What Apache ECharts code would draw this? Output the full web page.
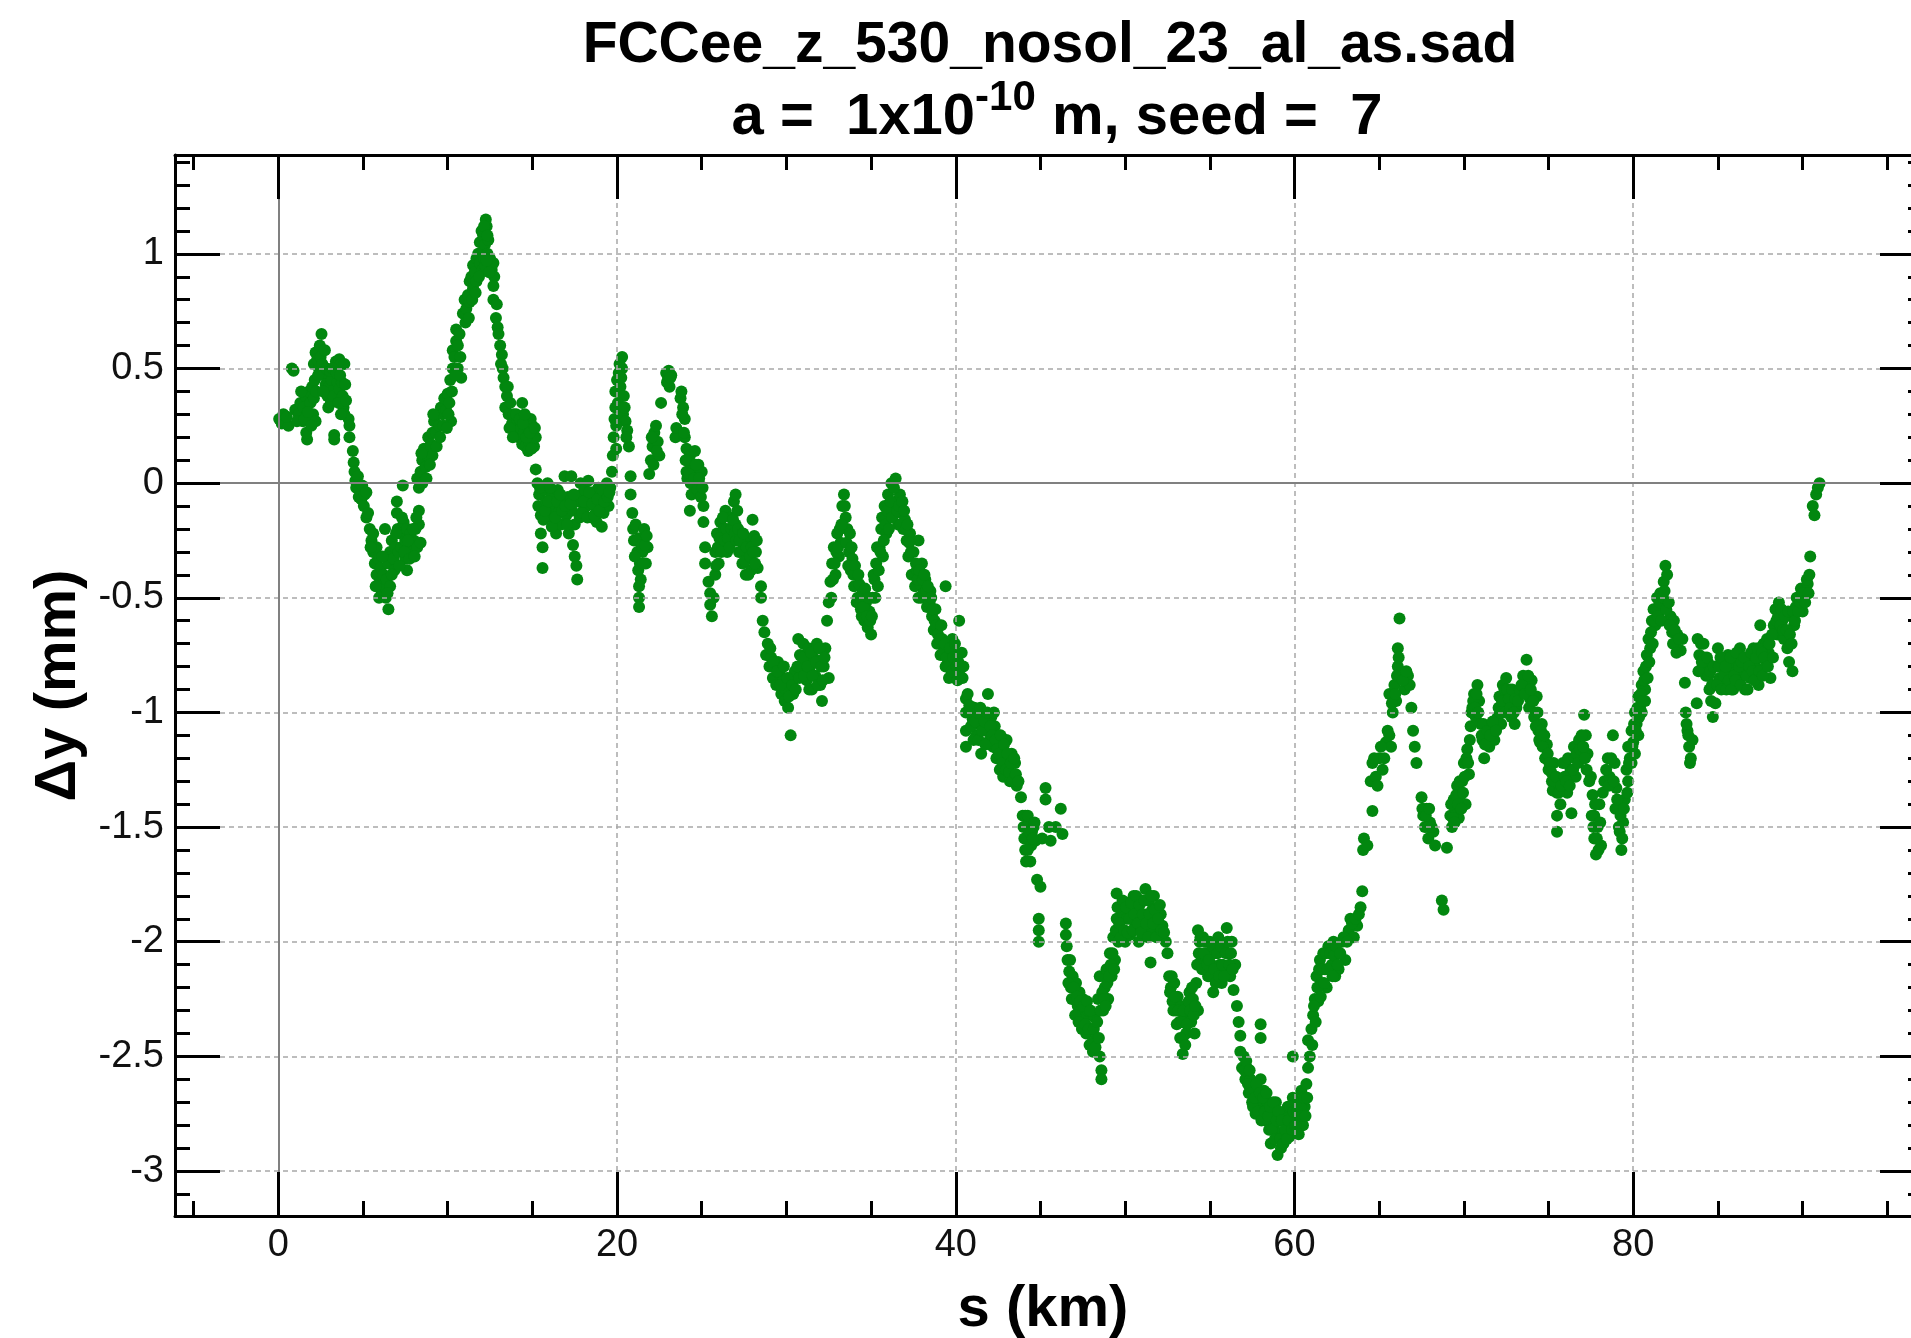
<!DOCTYPE html>
<html>
<head>
<meta charset="utf-8">
<title>FCCee_z_530_nosol_23_al_as.sad</title>
<script src="https://cdn.jsdelivr.net/npm/echarts@6/dist/echarts.min.js"></script>
<style>
  html, body { margin: 0; padding: 0; background: #fff; }
  #main { width: 1911px; height: 1338px; }
</style>
</head>
<body>
<div id="main"></div>
<script>
// dy (mm) against s (km), cut in pieces along s
var seg0to5 = [[0.05,0.28],[0.2,0.26],[0.45,0.26],[0.6,0.25],[0.8,0.5],[0.9,0.49],[1.0,0.32],[1.2,0.3],[1.3,0.35],[1.45,0.27],[1.5,0.33],[1.6,0.38],[1.7,0.19],[1.65,0.22],[1.8,0.4],[1.9,0.35],[2.0,0.42],[2.05,0.3],[2.1,0.37],[2.2,0.27],[2.25,0.4],[2.1,0.52],[2.2,0.57],[2.3,0.54],[2.45,0.6],[2.5,0.55],[2.55,0.65],[2.4,0.5],[2.7,0.47],[2.8,0.43],[2.9,0.38],[2.95,0.33],[3.0,0.42],[3.1,0.35],[3.15,0.45],[3.25,0.38],[3.3,0.21],[3.3,0.19],[3.4,0.53],[3.6,0.54],[3.7,0.52],[3.5,0.44],[3.6,0.41],[3.75,0.44],[3.8,0.38],[3.9,0.52],[3.85,0.33],[3.9,0.3],[4.15,0.28],[4.2,0.25],[4.2,0.2],[4.4,0.14],[4.45,0.09],[4.5,0.05],[4.55,0.01],[4.6,-0.02],[4.7,0.03],[4.8,-0.03],[4.75,-0.06],[4.9,-0.07],[4.95,-0.01],[5.05,-0.1],[5.1,-0.05],[5.2,-0.15],[5.3,-0.13],[5.2,-0.04],
  [0.3,0.3],[0.5,0.29],[1.1,0.27],[1.35,0.4],[1.55,0.28],[1.75,0.31],[1.95,0.25],[2.15,0.45],[2.35,0.47],[2.6,0.52],[2.75,0.58],[2.65,0.4],[2.85,0.5],[3.05,0.49],[3.2,0.5],[3.45,0.48],[3.55,0.35],[3.65,0.47],[3.7,0.3],[3.95,0.43],[4.0,0.36]];
var seg5to8 = [[5.4,-0.2],[5.5,-0.25],[5.6,-0.3],[5.6,-0.22],[5.7,-0.35],[5.8,-0.28],[5.8,-0.4],[5.9,-0.33],[6.0,-0.43],[6.05,-0.37],[6.1,-0.47],[6.2,-0.4],[6.25,-0.45],[6.3,-0.2],[6.35,-0.5],[6.5,-0.55],[6.4,-0.42],[6.5,-0.35],[6.6,-0.3],[6.6,-0.45],[6.7,-0.25],[6.8,-0.33],[6.85,-0.38],[6.9,-0.28],[7.0,-0.08],[7.0,-0.13],[7.05,-0.2],[7.1,-0.3],[7.2,-0.22],[7.25,-0.28],[7.35,-0.01],[7.4,-0.17],[7.5,-0.25],[7.5,-0.33],[7.6,-0.2],[7.6,-0.38],[7.7,-0.28],[7.8,-0.22],[7.9,-0.3],[8.0,-0.25],[8.1,-0.2],[8.2,-0.28],[8.3,-0.12],[8.3,-0.18],[8.4,-0.26],
  [5.45,-0.28],[5.75,-0.45],[5.95,-0.5],[6.15,-0.32],[6.45,-0.48],[6.7,-0.4],[6.95,-0.22],[7.15,-0.36],[7.3,-0.15],[7.45,-0.3],[7.65,-0.25],[7.75,-0.33],[7.95,-0.2],[8.05,-0.32],[8.15,-0.15]];
var seg8to13 = [[8.2,0.02],[8.3,-0.02],[8.4,0.05],[8.5,0.1],[8.5,0.0],[8.6,0.15],[8.7,0.07],[8.8,0.12],[8.85,0.2],[9.0,0.17],[9.1,0.22],[9.1,0.12],[9.2,0.27],[9.3,0.22],[9.4,0.3],[9.5,0.25],[9.6,0.33],[9.7,0.3],[9.8,0.37],[9.9,0.32],[10.0,0.39],[10.1,0.35],[10.2,0.27],[10.15,0.45],[10.3,0.5],[10.3,0.58],[10.4,0.55],[10.5,0.62],[10.5,0.67],[10.6,0.6],[10.7,0.65],[10.6,0.5],[10.8,0.46],[10.9,0.74],[11.0,0.8],[11.1,0.76],[11.2,0.82],[11.3,0.88],[11.3,0.79],[11.4,0.9],[11.5,0.85],[11.5,0.95],[11.6,0.92],[11.7,0.98],[11.7,0.88],[11.8,1.0],[11.9,0.96],[11.9,1.05],[12.0,1.0],[12.05,0.93],[12.1,1.08],[12.2,1.04],[12.2,0.95],[12.25,1.15],[12.3,1.12],[12.35,1.0],[12.4,1.06],[12.5,0.98],[12.6,0.93],[12.7,0.96],[12.75,0.9],
  [8.45,0.13],[8.75,0.02],[8.95,0.08],[9.15,0.3],[9.35,0.16],[9.55,0.2],[9.75,0.25],[9.95,0.24],[10.05,0.3],[10.25,0.4],[10.45,0.47],[10.75,0.55],[11.05,0.7],[11.25,0.72],[11.45,0.8],[11.65,0.83],[11.85,0.9],[12.0,1.1],[12.15,0.98],[12.3,0.97],[12.45,0.92],[12.15,1.12],[12.35,1.08]];
var seg13to15 = [[12.7,0.86],[12.7,0.8],[12.9,0.78],[12.85,0.72],[12.95,0.68],[13.0,0.65],[13.2,0.56],[13.25,0.5],[13.3,0.46],[13.4,0.42],[13.5,0.38],[13.4,0.33],[13.6,0.3],[13.7,0.35],[13.8,0.26],[13.9,0.3],[14.0,0.22],[14.1,0.27],[14.2,0.2],[14.3,0.24],[14.4,0.35],[14.4,0.17],[14.5,0.22],[14.6,0.16],[14.7,0.25],[14.8,0.18],[14.9,0.28],[15.0,0.21],[15.1,0.16],[15.0,0.25],[15.2,0.2],
  [13.1,0.6],[13.15,0.52],[13.55,0.42],[13.65,0.24],[13.85,0.2],[14.05,0.3],[14.25,0.28],[14.45,0.26],[14.55,0.3],[14.65,0.2],[14.75,0.14],[14.85,0.22],[14.95,0.15],[15.15,0.24]];
var seg15to20 = [[15.2,0.06],[15.3,0.0],[15.4,-0.05],[15.35,-0.1],[15.5,-0.14],[15.5,-0.22],[15.6,-0.28],[15.6,-0.37],[15.7,-0.03],[15.8,-0.08],[15.9,0.0],[16.0,-0.12],[16.1,-0.06],[16.2,-0.15],[16.3,-0.09],[16.4,-0.22],[16.5,-0.03],[16.6,-0.12],[16.7,-0.18],[16.8,-0.08],[16.9,0.03],[17.0,-0.14],[17.1,-0.06],[17.15,-0.22],[17.3,0.03],[17.35,-0.12],[17.4,-0.27],[17.5,-0.32],[17.5,-0.18],[17.6,-0.36],[17.65,-0.42],[17.7,-0.08],[17.8,-0.15],[17.85,0.0],[17.9,-0.05],[18.0,-0.12],[18.1,-0.03],[18.2,-0.1],[18.3,0.01],[18.4,-0.07],[18.5,-0.15],[18.6,-0.04],[18.7,-0.1],[18.8,-0.17],[18.9,-0.02],[19.0,-0.08],[19.1,-0.19],[19.2,-0.13],[19.3,-0.05],[19.4,0.0],[19.5,-0.1],[19.6,-0.02],[19.7,0.05],
  [15.45,-0.02],[15.65,-0.16],[15.75,-0.12],[15.95,-0.08],[16.05,-0.02],[16.15,-0.19],[16.35,-0.15],[16.45,-0.08],[16.65,-0.05],[16.75,-0.12],[16.95,-0.1],[17.05,-0.18],[17.25,-0.09],[17.45,-0.05],[17.95,-0.13],[18.05,-0.08],[18.25,-0.15],[18.35,-0.04],[18.55,-0.09],[18.65,-0.14],[18.85,-0.07],[18.95,-0.12],[19.15,-0.03],[19.25,-0.08],[19.45,-0.06],[19.55,-0.04]];
var seg20to25 = [[19.75,0.12],[19.8,0.2],[19.85,0.28],[19.9,0.33],[19.95,0.15],[19.9,0.4],[20.0,0.45],[20.1,0.48],[20.2,0.42],[20.3,0.55],[20.3,0.5],[20.4,0.38],[20.35,0.3],[20.5,0.27],[20.6,0.23],[20.7,0.16],[20.8,0.03],[20.8,-0.05],[20.9,-0.13],[20.95,-0.2],[21.0,-0.25],[21.1,-0.18],[21.2,-0.3],[21.3,-0.24],[21.35,-0.35],[21.4,-0.42],[21.3,-0.45],[21.3,-0.5],[21.3,-0.54],[21.5,-0.3],[21.6,-0.2],[21.7,-0.35],[21.8,-0.28],[21.9,0.04],[22.0,0.1],[22.1,0.16],[22.2,0.22],[22.3,0.25],[22.4,0.18],[22.5,0.12],[22.6,0.35],[22.9,0.48],[23.0,0.45],[23.2,0.47],[23.1,0.42],[23.45,0.2],[23.5,0.24],[23.75,0.37],[23.8,0.4],[23.9,0.33],[24.0,0.28],[24.0,0.2],[24.1,0.15],[24.2,0.1],[24.1,0.05],[24.3,0.12],[24.4,0.06],[24.4,-0.05],[24.3,-0.12],[24.5,0.08],[24.6,0.14],[24.7,0.02],[24.8,0.08],[24.9,-0.01],[25.0,0.05],[25.1,-0.1],[25.1,-0.17],[25.2,-0.28],[25.2,-0.35],
  [19.95,0.25],[20.05,0.35],[20.15,0.52],[20.25,0.46],[20.45,0.33],[20.55,0.2],[21.05,-0.32],[21.15,-0.25],[21.25,-0.38],[21.45,-0.27],[21.55,-0.35],[21.65,-0.27],[21.75,-0.23],[22.05,0.2],[22.15,0.08],[22.35,0.14],[22.95,0.44],[23.05,0.49],[23.15,0.46],[23.85,0.3],[23.95,0.22],[24.05,0.1],[24.15,0.02],[24.25,0.04],[24.35,0.0],[24.55,0.02],[24.65,0.08],[24.75,-0.03],[24.85,0.02],[24.95,-0.06],[25.05,-0.02]];
var seg25to29 = [[25.4,-0.43],[25.5,-0.48],[25.5,-0.53],[25.6,-0.58],[25.7,-0.5],[25.8,-0.4],[25.8,-0.3],[25.9,-0.22],[26.0,-0.35],[26.1,-0.17],[26.2,-0.28],[26.3,-0.2],[26.4,-0.12],[26.5,-0.3],[26.6,-0.2],[26.7,-0.15],[26.8,-0.25],[26.9,-0.08],[27.0,-0.05],[27.0,-0.18],[27.1,-0.12],[27.2,-0.3],[27.3,-0.22],[27.4,-0.35],[27.5,-0.28],[27.6,-0.4],[27.7,-0.33],[27.8,-0.25],[27.9,-0.38],[28.0,-0.16],[28.1,-0.23],[28.2,-0.3],[28.3,-0.37],[28.5,-0.45],[28.5,-0.5],
  [25.85,-0.36],[25.95,-0.28],[26.05,-0.24],[26.15,-0.3],[26.25,-0.15],[26.35,-0.25],[26.45,-0.2],[26.55,-0.24],[26.65,-0.28],[26.75,-0.2],[26.85,-0.16],[26.95,-0.22],[27.05,-0.25],[27.15,-0.2],[27.25,-0.25],[27.35,-0.3],[27.45,-0.22],[27.55,-0.34],[27.65,-0.28],[27.75,-0.4],[27.85,-0.32],[27.95,-0.28],[28.05,-0.3],[28.15,-0.35],[28.25,-0.25]];
var seg29to33 = [[28.6,-0.6],[28.7,-0.65],[28.8,-0.75],[28.9,-0.7],[29.0,-0.8],[29.1,-0.76],[29.2,-0.85],[29.3,-0.8],[29.4,-0.88],[29.5,-0.78],[29.6,-0.83],[29.7,-0.92],[29.8,-0.86],[29.9,-0.95],[30.0,-0.9],[30.1,-0.98],[30.25,-1.1],[30.2,-0.85],[30.4,-0.92],[30.5,-0.82],[30.7,-0.68],[30.8,-0.75],[30.9,-0.82],[31.0,-0.7],[31.1,-0.78],[31.2,-0.86],[31.3,-0.72],[31.4,-0.8],[31.5,-0.9],[31.6,-0.76],[31.7,-0.84],[31.8,-0.7],[31.9,-0.78],[32.0,-0.88],[32.1,-0.95],[32.2,-0.8],[32.3,-0.72],[32.4,-0.6],[32.5,-0.52],[32.5,-0.85],
  [29.05,-0.72],[29.25,-0.78],[29.45,-0.82],[29.65,-0.88],[29.85,-0.8],[30.05,-0.85],[30.15,-0.93],[30.35,-0.88],[30.55,-0.9],[30.65,-0.8],[30.75,-0.85],[30.95,-0.76],[31.05,-0.84],[31.25,-0.8],[31.35,-0.9],[31.45,-0.74],[31.55,-0.84],[31.75,-0.78],[31.85,-0.88],[31.95,-0.72],[32.05,-0.8],[32.15,-0.86],[32.25,-0.76]];
var seg33to38 = [[32.6,-0.43],[32.7,-0.35],[32.8,-0.28],[32.9,-0.4],[33.0,-0.22],[33.1,-0.32],[33.2,-0.26],[33.3,-0.1],[33.4,-0.05],[33.5,-0.15],[33.6,-0.2],[33.7,-0.3],[33.8,-0.38],[33.9,-0.33],[34.0,-0.45],[34.1,-0.4],[34.2,-0.5],[34.3,-0.44],[34.4,-0.55],[34.5,-0.48],[34.6,-0.6],[34.7,-0.52],[34.8,-0.63],[34.9,-0.56],[35.0,-0.66],[35.1,-0.5],[35.2,-0.42],[35.3,-0.35],[35.4,-0.45],[35.5,-0.28],[35.6,-0.2],[35.7,-0.32],[35.8,-0.1],[35.9,-0.22],[36.0,-0.05],[36.1,-0.15],[36.2,0.0],[36.3,-0.1],[36.45,0.02],[36.5,-0.08],[36.6,-0.18],[36.7,-0.05],[36.8,-0.13],[36.9,-0.2],[37.0,-0.16],[37.1,-0.25],[37.2,-0.32],[37.3,-0.22],[37.4,-0.4],[37.5,-0.3],[37.8,-0.25],
  [32.65,-0.5],[32.75,-0.42],[32.85,-0.35],[32.95,-0.3],[33.05,-0.28],[33.15,-0.2],[33.25,-0.18],[33.45,-0.1],[33.55,-0.26],[33.65,-0.36],[33.75,-0.22],[33.85,-0.28],[33.95,-0.4],[34.05,-0.36],[34.15,-0.52],[34.25,-0.4],[34.35,-0.5],[34.45,-0.58],[34.55,-0.54],[34.65,-0.46],[34.75,-0.58],[34.85,-0.5],[34.95,-0.6],[35.05,-0.58],[35.15,-0.4],[35.25,-0.5],[35.35,-0.28],[35.45,-0.38],[35.55,-0.3],[35.65,-0.15],[35.75,-0.25],[35.85,-0.18],[35.95,-0.12],[36.05,-0.2],[36.15,-0.08],[36.25,-0.15],[36.35,-0.02],[36.55,-0.12],[36.65,-0.1],[36.75,-0.18],[36.85,-0.08],[36.95,-0.12],[37.05,-0.2],[37.15,-0.18],[37.25,-0.26],[37.35,-0.3]];
var seg38to41 = [[37.6,-0.45],[37.7,-0.38],[37.8,-0.5],[37.9,-0.44],[38.0,-0.35],[38.1,-0.48],[38.2,-0.42],[38.3,-0.54],[38.5,-0.47],[38.6,-0.58],[38.7,-0.64],[38.8,-0.55],[38.9,-0.7],[39.0,-0.62],[39.1,-0.75],[39.2,-0.68],[39.4,-0.45],[39.4,-0.8],[39.5,-0.72],[39.6,-0.85],[39.7,-0.77],[39.8,-0.68],[39.9,-0.82],[40.0,-0.75],[40.1,-0.86],[40.2,-0.6],[40.3,-0.8],[40.4,-0.85],[40.6,-0.94],[40.6,-1.0],[40.6,-1.08],[40.6,-1.15],
  [37.65,-0.35],[37.75,-0.42],[37.85,-0.38],[37.95,-0.5],[38.05,-0.42],[38.15,-0.4],[38.25,-0.47],[38.35,-0.45],[38.45,-0.52],[38.55,-0.5],[38.65,-0.55],[38.75,-0.6],[38.85,-0.62],[38.95,-0.66],[39.05,-0.68],[39.15,-0.62],[39.25,-0.74],[39.35,-0.7],[39.45,-0.76],[39.55,-0.8],[39.65,-0.72],[39.75,-0.82],[39.85,-0.76],[39.95,-0.7],[40.05,-0.8],[40.15,-0.78],[40.25,-0.84],[40.35,-0.74],[40.45,-0.8]];
var seg41to47 = [[40.7,-0.92],[41.0,-1.03],[41.2,-1.1],[41.1,-0.98],[41.4,-1.05],[41.5,-1.18],[41.6,-1.0],[41.8,-1.08],[41.9,-0.92],[42.0,-1.12],[42.1,-1.02],[42.2,-1.15],[42.3,-1.06],[42.4,-1.2],[42.5,-1.1],[42.6,-1.25],[42.7,-1.16],[42.8,-1.28],[42.9,-1.2],[43.0,-1.12],[43.1,-1.24],[43.2,-1.3],[43.3,-1.18],[43.4,-1.27],[43.5,-1.22],[43.6,-1.32],[43.85,-1.37],[43.95,-1.45],[44.0,-1.5],[44.1,-1.45],[44.1,-1.6],[44.2,-1.55],[44.3,-1.48],[44.4,-1.65],[44.5,-1.52],[44.6,-1.5],[44.7,-1.56],[44.8,-1.73],[45.0,-1.76],[45.1,-1.55],[45.3,-1.33],[45.3,-1.38],[45.5,-1.5],[45.6,-1.56],[45.9,-1.5],[46.2,-1.42],[46.3,-1.53],[44.9,-1.9],[44.9,-1.95],[44.9,-2.0],
  [40.8,-0.97],[40.9,-1.06],[41.05,-1.12],[41.15,-1.04],[41.3,-1.0],[41.35,-1.12],[41.45,-0.98],[41.55,-1.08],[41.7,-1.04],[41.75,-1.14],[41.85,-1.0],[42.05,-1.06],[42.15,-1.1],[42.25,-1.0],[42.35,-1.12],[42.45,-1.16],[42.55,-1.18],[42.65,-1.1],[42.75,-1.22],[42.85,-1.14],[42.95,-1.25],[43.05,-1.18],[43.15,-1.26],[43.25,-1.22],[43.35,-1.3],[43.45,-1.2],[43.55,-1.27],[43.7,-1.3],[44.05,-1.55],[44.25,-1.45],[44.35,-1.52],[44.45,-1.58],[44.55,-1.55],[44.65,-1.48],[44.15,-1.65],[44.25,-1.6]];
var seg47to53 = [[46.5,-1.92],[46.5,-1.97],[46.6,-2.08],[46.7,-2.13],[46.8,-2.2],[46.9,-2.15],[47.0,-2.25],[47.1,-2.18],[47.2,-2.28],[47.3,-2.22],[47.4,-2.3],[47.5,-2.25],[47.6,-2.33],[47.7,-2.4],[47.8,-2.3],[47.9,-2.45],[48.0,-2.38],[48.1,-2.48],[48.2,-2.33],[48.3,-2.42],[48.4,-2.25],[48.5,-2.5],[48.6,-2.56],[48.6,-2.6],[48.5,-2.15],[48.7,-2.3],[48.8,-2.2],[48.9,-2.12],[49.0,-2.25],[49.1,-2.05],[49.2,-2.15],[49.3,-1.98],[49.4,-2.08],[49.5,-1.79],[49.5,-1.9],[49.6,-2.0],[49.7,-1.85],[49.8,-1.95],[49.9,-1.88],[50.0,-2.0],[50.1,-1.9],[50.2,-1.83],[50.3,-1.97],[50.4,-1.88],[50.5,-1.8],[50.6,-1.93],[50.7,-1.86],[50.8,-2.0],[50.9,-1.9],[51.0,-1.82],[51.1,-1.95],[51.2,-1.77],[51.3,-1.88],[51.4,-1.82],[51.5,-2.09],[51.5,-1.95],[51.6,-1.86],[51.7,-1.8],[51.8,-1.92],[51.9,-1.85],[52.0,-1.97],[52.1,-1.88],[52.2,-1.93],[52.4,-2.0],[52.5,-2.05],
  [46.55,-2.02],[46.65,-2.18],[46.75,-2.08],[46.85,-2.25],[46.95,-2.2],[47.05,-2.32],[47.15,-2.24],[47.25,-2.35],[47.35,-2.26],[47.45,-2.38],[47.55,-2.28],[47.65,-2.36],[47.75,-2.26],[47.85,-2.38],[47.95,-2.3],[48.05,-2.44],[48.15,-2.38],[48.25,-2.46],[48.35,-2.35],[48.45,-2.42],[48.55,-2.3],[48.65,-2.22],[48.75,-2.25],[48.85,-2.28],[48.95,-2.18],[49.05,-2.15],[49.15,-2.1],[49.25,-2.05],[49.35,-2.12],[49.45,-1.95],[49.55,-1.85],[49.65,-1.92],[49.75,-1.98],[49.85,-1.82],[49.95,-1.95],[50.05,-1.85],[50.15,-1.96],[50.25,-1.9],[50.35,-1.83],[50.45,-1.95],[50.55,-1.88],[50.65,-1.8],[50.75,-1.92],[50.85,-1.84],[50.95,-1.96],[51.05,-1.88],[51.15,-1.82],[51.25,-1.92],[51.35,-1.98],[51.45,-1.88],[51.55,-1.8],[51.65,-1.92],[51.75,-1.86],[51.85,-1.98],[51.95,-1.9],[52.05,-1.84],[52.15,-1.95],[52.3,-1.96]];
var seg53to57 = [[52.6,-2.15],[52.7,-2.2],[52.8,-2.26],[52.9,-2.18],[53.0,-2.3],[53.1,-2.24],[53.2,-2.35],[53.3,-2.28],[53.4,-2.49],[53.4,-2.42],[53.5,-2.33],[53.6,-2.4],[53.7,-2.3],[53.8,-2.22],[53.9,-2.35],[54.0,-2.25],[54.1,-2.4],[54.2,-2.18],[54.3,-2.3],[54.4,-2.0],[54.3,-1.95],[54.5,-2.08],[54.6,-1.98],[54.7,-2.12],[54.8,-2.05],[54.9,-2.15],[55.0,-2.0],[55.1,-2.1],[55.2,-2.22],[55.3,-2.05],[55.4,-2.13],[55.5,-1.98],[55.6,-2.1],[55.7,-2.18],[55.8,-2.02],[55.9,-2.12],[56.0,-1.94],[56.1,-2.05],[56.2,-2.15],[56.3,-2.0],[56.4,-2.21],[56.5,-2.1],
  [52.65,-2.22],[52.75,-2.15],[52.85,-2.3],[52.95,-2.24],[53.05,-2.36],[53.15,-2.3],[53.25,-2.42],[53.35,-2.35],[53.45,-2.3],[53.55,-2.45],[53.65,-2.36],[53.75,-2.26],[53.85,-2.3],[53.95,-2.2],[54.05,-2.32],[54.15,-2.28],[54.25,-2.1],[54.35,-2.05],[54.45,-1.98],[54.55,-2.12],[54.65,-2.05],[54.75,-2.0],[54.85,-2.1],[54.95,-2.08],[55.05,-2.15],[55.15,-2.02],[55.25,-2.12],[55.35,-2.18],[55.45,-2.05],[55.55,-2.15],[55.65,-2.02],[55.75,-2.1],[55.85,-2.15],[55.95,-2.05],[56.05,-2.0],[56.15,-2.1],[56.25,-2.05],[56.35,-2.12]];
var seg57to61 = [[56.6,-2.28],[56.7,-2.35],[56.8,-2.41],[56.8,-2.48],[56.9,-2.55],[57.0,-2.5],[57.1,-2.6],[57.2,-2.55],[57.3,-2.66],[57.4,-2.6],[57.5,-2.7],[57.6,-2.63],[57.7,-2.75],[57.8,-2.68],[58.0,-2.36],[58.0,-2.42],[58.0,-2.6],[58.1,-2.72],[58.2,-2.65],[58.3,-2.78],[58.4,-2.7],[58.5,-2.82],[58.6,-2.88],[58.7,-2.75],[58.8,-2.8],[58.9,-2.7],[59.0,-2.85],[59.0,-2.93],[59.1,-2.78],[59.2,-2.9],[59.3,-2.83],[59.4,-2.74],[59.5,-2.8],[59.6,-2.72],[59.7,-2.85],[59.8,-2.78],[59.9,-2.5],[59.9,-2.68],[60.0,-2.75],[60.1,-2.82],[60.2,-2.7],[60.3,-2.78],[60.4,-2.65],[60.5,-2.8],[60.6,-2.72],[60.7,-2.62],[60.8,-2.43],[60.8,-2.55],[60.9,-2.5],
  [57.05,-2.56],[57.15,-2.52],[57.25,-2.62],[57.35,-2.56],[57.45,-2.66],[57.55,-2.72],[57.65,-2.68],[57.75,-2.62],[57.85,-2.74],[57.95,-2.66],[58.05,-2.78],[58.15,-2.68],[58.25,-2.74],[58.35,-2.66],[58.45,-2.76],[58.55,-2.72],[58.65,-2.82],[58.75,-2.7],[58.85,-2.86],[58.95,-2.78],[59.05,-2.74],[59.15,-2.86],[59.25,-2.78],[59.35,-2.88],[59.45,-2.82],[59.55,-2.86],[59.65,-2.78],[59.75,-2.72],[59.85,-2.82],[59.95,-2.74],[60.05,-2.8],[60.15,-2.74],[60.25,-2.84],[60.35,-2.72],[60.45,-2.76],[60.55,-2.68],[60.65,-2.76],[60.75,-2.68]];
var seg61to67 = [[61.0,-2.38],[61.1,-2.32],[61.2,-2.25],[61.3,-2.15],[61.4,-2.26],[61.5,-2.08],[61.6,-2.18],[61.7,-2.05],[61.8,-2.12],[61.9,-2.2],[62.0,-2.02],[62.2,-2.1],[62.3,-2.0],[62.4,-2.15],[62.5,-2.05],[62.6,-2.12],[62.8,-2.0],[63.0,-2.08],[63.2,-1.95],[63.3,-1.9],[63.5,-1.98],[63.7,-1.93],[63.9,-1.85],[64.0,-1.78],[64.05,-1.6],[64.1,-1.55],[64.3,-1.58],[64.6,-1.43],[64.5,-1.3],[64.6,-1.22],[64.8,-1.28],[65.0,-1.2],[65.2,-1.25],[65.4,-1.13],[65.5,-1.08],[65.7,-1.15],[65.8,-1.0],[65.6,-0.92],[65.9,-0.88],[66.0,-0.95],[66.1,-0.8],[66.1,-0.72],[66.2,-0.59],[66.3,-0.85],[66.5,-0.9],[66.7,-0.84],[66.8,-0.88],[66.9,-0.98],
  [61.05,-2.45],[61.15,-2.28],[61.25,-2.35],[61.35,-2.2],[61.45,-2.12],[61.55,-2.24],[61.65,-2.12],[61.75,-2.18],[61.85,-2.05],[61.95,-2.12],[62.1,-2.05],[62.25,-2.15],[62.35,-2.06],[62.45,-2.02],[62.55,-2.1],[62.7,-2.05],[62.9,-1.98],[63.1,-2.0],[63.4,-1.92],[63.6,-1.9],[63.8,-1.88],[64.7,-1.2],[64.9,-1.32],[65.1,-1.15],[65.3,-1.2],[65.6,-1.1],[65.75,-0.96],[65.95,-0.92],[66.05,-0.84],[66.15,-0.76],[66.4,-0.86],[66.6,-0.82]];
var seg67to73 = [[67.0,-1.08],[67.1,-1.15],[67.2,-1.22],[67.5,-1.37],[67.6,-1.45],[67.7,-1.5],[67.8,-1.42],[67.9,-1.55],[68.0,-1.48],[68.2,-1.52],[68.3,-1.58],[68.7,-1.82],[68.8,-1.86],[69.0,-1.59],[69.2,-1.45],[69.3,-1.5],[69.4,-1.38],[69.5,-1.42],[69.6,-1.32],[69.7,-1.46],[69.8,-1.36],[69.9,-1.3],[70.0,-1.22],[70.1,-1.4],[70.2,-1.16],[70.3,-1.27],[70.4,-1.06],[70.5,-0.98],[70.6,-0.92],[70.7,-1.02],[70.8,-0.88],[70.9,-0.95],[71.0,-1.05],[71.1,-1.12],[71.2,-1.2],[71.3,-1.1],[71.5,-1.15],[71.6,-1.06],[71.8,-1.12],[72.0,-1.02],[72.1,-0.93],[72.2,-1.05],[72.3,-0.88],[72.5,-0.85],[72.6,-0.96],[72.7,-0.9],[72.8,-1.02],[72.9,-0.95],[73.0,-1.05],[73.1,-0.98],
  [67.55,-1.42],[67.75,-1.45],[67.85,-1.5],[67.95,-1.42],[68.1,-1.5],[69.25,-1.4],[69.35,-1.46],[69.45,-1.48],[69.55,-1.36],[69.65,-1.4],[69.75,-1.3],[69.85,-1.42],[69.95,-1.35],[70.05,-1.28],[70.15,-1.2],[70.25,-1.22],[70.35,-1.12],[70.45,-1.0],[70.55,-0.95],[70.65,-0.98],[70.75,-0.92],[70.85,-1.0],[71.05,-1.1],[71.15,-1.05],[71.25,-1.14],[71.4,-1.08],[71.55,-1.1],[71.7,-1.04],[71.9,-1.08],[72.05,-0.98],[72.15,-1.0],[72.25,-0.95],[72.4,-0.9],[72.45,-1.0],[72.55,-0.9],[72.65,-0.94],[72.75,-0.98],[72.85,-0.9],[72.95,-1.0],[73.05,-0.94]];
var seg73to80 = [[73.3,-0.9],[73.5,-0.84],[73.7,-0.77],[73.7,-0.9],[73.9,-0.94],[74.0,-0.86],[74.2,-1.0],[74.3,-0.93],[74.4,-1.08],[74.5,-1.13],[74.6,-1.05],[74.8,-1.2],[74.9,-1.14],[75.0,-1.25],[75.2,-1.3],[75.3,-1.22],[75.5,-1.35],[75.5,-1.45],[75.5,-1.52],[75.7,-1.4],[75.9,-1.3],[76.0,-1.22],[76.1,-1.35],[76.3,-1.25],[76.35,-1.44],[76.5,-1.15],[76.6,-1.28],[76.8,-1.12],[76.9,-1.2],[77.1,-1.01],[77.2,-1.1],[77.3,-1.18],[77.5,-1.28],[77.6,-1.36],[77.7,-1.45],[77.7,-1.55],[77.8,-1.62],[77.9,-1.5],[78.0,-1.4],[78.1,-1.58],[78.3,-1.3],[78.5,-1.2],[78.6,-1.28],[78.8,-1.1],[78.9,-1.22],[79.0,-1.33],[79.1,-1.42],[79.2,-1.52],[79.3,-1.6],[79.4,-1.48],[79.5,-1.38],
  [73.2,-0.95],[73.4,-0.88],[73.6,-0.92],[73.8,-0.84],[73.85,-0.98],[73.95,-0.9],[74.1,-0.95],[74.15,-1.02],[74.25,-1.06],[74.35,-1.0],[74.45,-1.12],[74.55,-1.08],[74.65,-1.15],[74.75,-1.1],[74.85,-1.2],[74.95,-1.18],[75.05,-1.22],[75.15,-1.26],[75.25,-1.34],[75.35,-1.3],[75.45,-1.28],[75.6,-1.35],[75.75,-1.32],[75.85,-1.22],[75.95,-1.28],[76.05,-1.3],[76.15,-1.2],[76.25,-1.32],[76.45,-1.25],[76.55,-1.2],[76.65,-1.18],[76.75,-1.22],[76.85,-1.16],[76.95,-1.1],[77.05,-1.15],[77.15,-1.2],[77.25,-1.25],[77.4,-1.3],[77.55,-1.45],[77.65,-1.5],[77.75,-1.4],[77.85,-1.55],[77.95,-1.6],[78.05,-1.48],[78.2,-1.35],[78.4,-1.25],[78.55,-1.32],[78.7,-1.2],[78.85,-1.3],[78.95,-1.42],[79.05,-1.38],[79.15,-1.5],[79.25,-1.45],[79.35,-1.55],[79.45,-1.42]];
var seg80to84 = [[79.6,-1.25],[79.7,-1.3],[79.7,-1.15],[79.8,-1.2],[79.9,-1.22],[79.9,-1.08],[80.0,-1.13],[80.1,-1.18],[80.1,-1.0],[80.2,-1.05],[80.3,-1.1],[80.3,-0.93],[80.4,-0.98],[80.5,-1.0],[80.5,-0.88],[80.6,-0.82],[80.7,-0.95],[80.7,-0.9],[80.8,-0.75],[80.9,-0.68],[81.0,-0.72],[81.1,-0.6],[81.2,-0.55],[81.3,-0.62],[81.4,-0.5],[81.5,-0.57],[81.6,-0.48],[81.7,-0.54],[81.8,-0.43],[81.9,-0.36],[82.0,-0.4],[82.0,-0.6],[82.2,-0.58],[82.3,-0.65],[82.4,-0.6],[82.5,-0.7],[82.6,-0.66],[82.8,-0.73],[82.9,-0.68],[83.05,-0.87],[83.1,-1.0],[83.2,-1.08],[83.3,-1.15],[83.4,-1.2],[83.5,-1.12],[83.75,-0.96],
  [79.65,-1.35],[79.75,-1.22],[79.85,-1.15],[79.95,-1.15],[80.05,-1.05],[80.15,-1.08],[80.25,-0.98],[80.35,-1.02],[80.45,-0.92],[80.55,-0.95],[80.65,-0.86],[80.75,-0.8],[80.85,-0.85],[80.95,-0.78],[81.05,-0.65],[81.15,-0.7],[81.25,-0.6],[81.35,-0.55],[81.45,-0.58],[81.55,-0.52],[81.65,-0.6],[81.75,-0.5],[81.85,-0.47],[81.95,-0.55],[82.1,-0.52],[82.15,-0.62],[82.35,-0.7],[82.45,-0.64],[82.55,-0.74],[82.7,-0.68],[83.15,-1.05],[83.25,-1.1],[83.35,-1.22]];
var seg84to91 = [[83.8,-0.68],[83.9,-0.75],[84.0,-0.7],[84.1,-0.8],[84.2,-0.76],[84.3,-0.84],[84.4,-0.78],[84.5,-0.9],[84.6,-0.95],[84.7,-1.02],[84.8,-0.88],[84.9,-0.8],[85.0,-0.72],[85.1,-0.85],[85.3,-0.78],[85.4,-0.88],[85.6,-0.75],[85.7,-0.82],[85.9,-0.9],[86.0,-0.78],[86.2,-0.86],[86.3,-0.72],[86.5,-0.82],[86.6,-0.9],[86.8,-0.76],[86.9,-0.85],[87.1,-0.72],[87.2,-0.8],[87.4,-0.88],[87.5,-0.62],[87.5,-0.76],[87.7,-0.7],[87.8,-0.8],[88.0,-0.74],[88.1,-0.85],[88.3,-0.62],[88.4,-0.55],[88.5,-0.66],[88.6,-0.52],[88.8,-0.6],[88.9,-0.68],[89.1,-0.72],[89.2,-0.78],[89.4,-0.82],[89.3,-0.58],[89.5,-0.62],[89.6,-0.54],[89.8,-0.5],[89.9,-0.46],[90.0,-0.56],[90.2,-0.48],[90.3,-0.44],[90.45,-0.32],[90.6,-0.1],[90.7,-0.14],[90.8,-0.05],[90.9,-0.02],[91.0,0.0],
  [83.85,-0.82],[84.05,-0.78],[84.15,-0.7],[84.35,-0.76],[84.45,-0.84],[84.55,-0.82],[84.65,-0.88],[84.75,-0.8],[84.85,-0.96],[84.95,-0.88],[85.05,-0.8],[85.15,-0.76],[85.2,-0.9],[85.35,-0.84],[85.45,-0.8],[85.5,-0.9],[85.65,-0.86],[85.75,-0.76],[85.8,-0.9],[85.95,-0.84],[86.05,-0.86],[86.1,-0.74],[86.25,-0.8],[86.35,-0.88],[86.4,-0.78],[86.55,-0.76],[86.7,-0.84],[86.75,-0.9],[86.85,-0.8],[86.95,-0.74],[87.05,-0.82],[87.15,-0.86],[87.25,-0.76],[87.35,-0.72],[87.45,-0.82],[87.6,-0.74],[87.65,-0.84],[87.75,-0.76],[87.9,-0.68],[87.95,-0.8],[88.05,-0.7],[88.2,-0.66],[88.25,-0.76],[88.45,-0.6],[88.55,-0.58],[88.7,-0.62],[88.75,-0.55],[88.85,-0.64],[88.95,-0.58],[89.05,-0.64],[89.15,-0.56],[89.25,-0.66],[89.35,-0.7],[89.45,-0.56],[89.55,-0.6],[89.65,-0.5],[89.75,-0.56],[89.85,-0.52],[89.95,-0.5],[90.05,-0.48],[90.15,-0.52],[90.25,-0.42],[90.35,-0.48],[90.4,-0.4]];

// ticks
var sMajor = [0, 20, 40, 60, 80];
var sMinor = [-5, 5, 10, 15, 25, 30, 35, 45, 50, 55, 65, 70, 75, 85, 90, 95];
var dyMajor = [-3, -2.5, -2, -1.5, -1, -0.5, 0, 0.5, 1];
var dyMinor = [-3.1, -2.9, -2.8, -2.7, -2.6, -2.4, -2.3, -2.2, -2.1, -1.9, -1.8, -1.7, -1.6, -1.4, -1.3, -1.2, -1.1,
               -0.9, -0.8, -0.7, -0.6, -0.4, -0.3, -0.2, -0.1, 0.1, 0.2, 0.3, 0.4, 0.6, 0.7, 0.8, 0.9, 1.1, 1.2, 1.3, 1.4];
var sGrid = [20, 40, 60, 80];
var dyGrid = [-3, -2.5, -2, -1.5, -1, -0.5, 0.5, 1];

var sRange = [-6.1, 96.4];
var dyRange = [-3.196, 1.431];

var points = [].concat(seg0to5, seg5to8, seg8to13, seg13to15, seg15to20, seg20to25, seg25to29, seg29to33,
  seg33to38, seg38to41, seg41to47, seg47to53, seg53to57, seg57to61, seg61to67, seg67to73, seg73to80, seg80to84, seg84to91);

var FONT = '"Liberation Sans", Arial, Helvetica, sans-serif';

function tickAxis(pos, range, ticks, len, withLine, labels, extra) {
  var ax = {
    type: 'value',
    position: pos,
    min: range[0],
    max: range[1],
    z: 5,
    axisLine: { show: withLine, onZero: false, lineStyle: { color: '#000', width: 3 } },
    axisTick: { show: true, inside: true, length: len, customValues: ticks, lineStyle: { color: '#000', width: 3 } },
    axisLabel: labels ? {
      show: true, customValues: ticks, color: '#111', fontSize: 38, fontFamily: FONT, margin: 11
    } : { show: false },
    splitLine: { show: false }
  };
  for (var k in extra) ax[k] = extra[k];
  return ax;
}

var myChart = echarts.init(document.getElementById('main'));
var option = {
  animation: false,
  backgroundColor: '#fff',
  grid: { left: 175, top: 155, right: 0, bottom: 122, containLabel: false, outerBoundsMode: 'none' },
  graphic: [
    {
      type: 'text', x: 1050, y: 46, z: 10,
      style: { text: 'FCCee_z_530_nosol_23_al_as.sad', fill: '#000', font: 'bold 57px ' + FONT, align: 'center', verticalAlign: 'middle' }
    },
    {
      type: 'text', x: 1057, y: 112, z: 10,
      style: {
        text: '{b|a =  1x10}{s|-10}{b| m, seed =  7}',
        align: 'center', verticalAlign: 'middle',
        rich: {
          b: { fontSize: 58, fontWeight: 'bold', fontFamily: FONT, fill: '#000', lineHeight: 69, verticalAlign: 'bottom' },
          s: { fontSize: 42, fontWeight: 'bold', fontFamily: FONT, fill: '#000', lineHeight: 47, verticalAlign: 'top' }
        }
      }
    }
  ],
  xAxis: [
    tickAxis('bottom', sRange, sMajor, 44, true, true, {
      name: 's (km)', nameLocation: 'middle', nameGap: 65,
      nameTextStyle: { fontSize: 58, fontWeight: 'bold', fontFamily: FONT, color: '#000' }
    }),
    tickAxis('bottom', sRange, sMinor, 15, false, false, {}),
    tickAxis('top', sRange, sMajor, 44, true, false, {}),
    tickAxis('top', sRange, sMinor, 15, false, false, {})
  ],
  yAxis: [
    tickAxis('left', dyRange, dyMajor, 45, true, true, {
      name: 'Δy (mm)', nameLocation: 'middle', nameGap: 86,
      nameTextStyle: { fontSize: 58, fontWeight: 'bold', fontFamily: FONT, color: '#000' }
    }),
    tickAxis('left', dyRange, dyMinor, 15, false, false, {}),
    // the right frame sits just past the picture's edge: only the tips of its ticks show
    tickAxis('right', dyRange, dyMajor, 31, false, false, {}),
    tickAxis('right', dyRange, dyMinor, 3, false, false, {})
  ],
  series: [
    {
      // grid lines, drawn under the dots
      type: 'scatter',
      data: [],
      z: 1,
      silent: true,
      markLine: {
        silent: true,
        symbol: 'none',
        label: { show: false },
        animation: false,
        lineStyle: { color: '#a8a8a8', width: 1.5, type: [5, 4] },
        data: sGrid.map(function (v) { return { xAxis: v }; })
          .concat(dyGrid.map(function (v) { return { yAxis: v }; }))
          .concat([
            { xAxis: 0, lineStyle: { color: '#808080', width: 2, type: 'solid' } },
            { yAxis: 0, lineStyle: { color: '#808080', width: 2, type: 'solid' } }
          ])
      }
    },
    {
      name: 'dy',
      type: 'scatter',
      z: 2,
      symbol: 'circle',
      symbolSize: 12,
      itemStyle: { color: '#02870f', opacity: 1 },
      data: points
    }
  ]
};
myChart.setOption(option);
</script>
</body>
</html>
